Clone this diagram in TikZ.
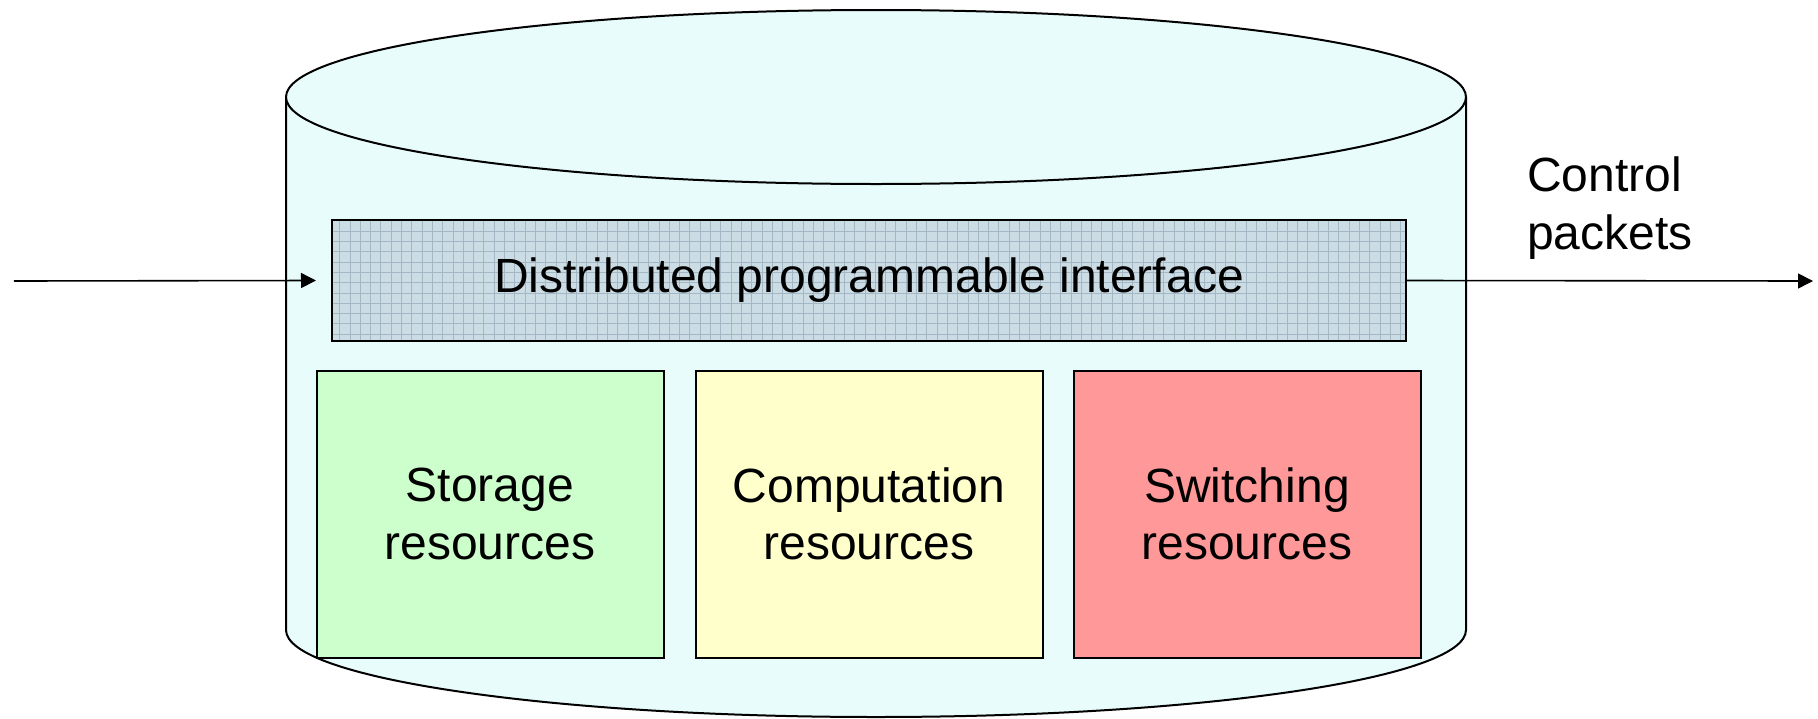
\documentclass[tikz,border=0pt]{standalone}
\usepackage{fontspec}
\setmainfont{Liberation Sans}
\usetikzlibrary{arrows.meta}

\definecolor{cylfill}{HTML}{E8FCFC}
\definecolor{ifacefill}{HTML}{CBDCE4}
\definecolor{ifacegrid}{HTML}{A3B7C4}
\definecolor{storefill}{HTML}{CCFFCC}
\definecolor{compfill}{HTML}{FFFFCC}
\definecolor{switchfill}{HTML}{FF9999}

\tikzset{
  outline/.style={draw=black, line width=2pt},
  label font/.style={font=\fontsize{48pt}{57.5pt}\selectfont},
  ifacebox/.style={outline, fill=ifacefill, inner sep=0pt, label font,
    minimum width=1074pt, minimum height=121pt,
    path picture={\draw[ifacegrid, line width=0.8pt]
      (path picture bounding box.south west) grid[step=10.3pt]
      (path picture bounding box.north east);}},
  resbox/.style={outline, inner sep=0pt, label font, align=center,
    minimum width=347pt, minimum height=287pt},
  flow/.style={line width=1.6pt, -{Triangle[length=15pt, width=15pt]}},
}

\begin{document}
\begin{tikzpicture}[x=1pt, y=-1pt]
\useasboundingbox (0,0) rectangle (1818,718);

% cylinder body: fill, then the side walls and the front of the base
\fill[cylfill] (286,97) rectangle (1466,630);
\fill[cylfill] (876,630) ellipse[x radius=590pt, y radius=87pt];
\draw[outline] (286,97) -- (286,630)
  arc[start angle=180, end angle=360, x radius=590pt, y radius=87pt]
  -- (1466,97);
% cylinder lid
\draw[outline, fill=cylfill] (876,97) ellipse[x radius=590pt, y radius=87pt];

% interface layer
\node[ifacebox] (iface) at (869,280.5) {Distributed programmable interface};

% resource blocks
\node[resbox, fill=storefill]  (store)  at (490,514)  {Storage\\resources};
\node[resbox, fill=compfill]   (comp)   at (869,514)  {Computation\\resources};
\node[resbox, fill=switchfill] (switch) at (1247,514) {Switching\\resources};

% incoming and outgoing flows
\coordinate (inStart) at (14,281);
\coordinate (outEnd) at (1813,281);
\draw[flow] (inStart) -- ([xshift=-15pt]iface.west);
\draw[flow] (iface.east) -- (outEnd);

\node[label font, align=left, anchor=west, inner sep=0pt] (ctrl) at (1527,208)
  {Control\\packets};
\end{tikzpicture}
\end{document}
